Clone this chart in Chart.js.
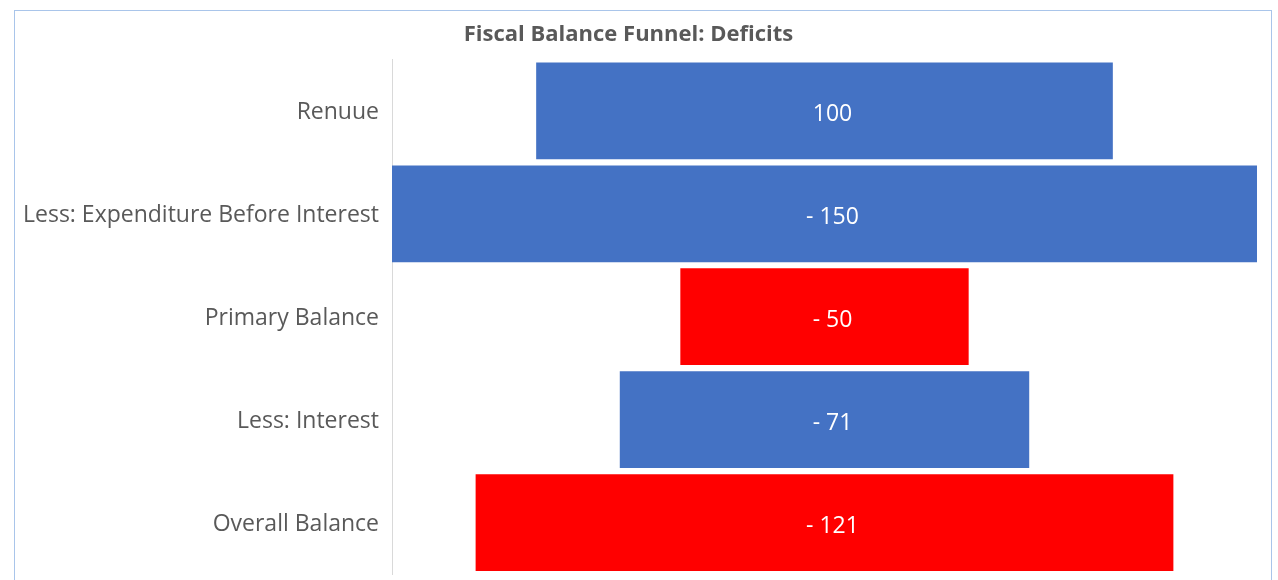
<!DOCTYPE html>
<html>
<head>
<meta charset="utf-8">
<script src="https://cdn.jsdelivr.net/npm/chart.js@4.4.1/dist/chart.umd.min.js"></script>
<style>
  html, body { margin: 0; padding: 0; background: #ffffff; overflow: hidden; }
  #wrap { position: relative; width: 1278px; height: 580px; }
  #frame { position: absolute; left: 14px; top: 10px; width: 1258px; height: 640px;
           border: 1px solid #a9c5ea; box-sizing: border-box; pointer-events: none; }
  canvas { position: absolute; left: 0; top: 0; }
</style>
</head>
<body>
<div id="wrap">
  <canvas id="chart" width="1278" height="580"></canvas>
  <div id="frame"></div>
</div>
<script>
// Funnel stages and their amounts
const categories = ['Renuue', 'Less: Expenditure Before Interest', 'Primary Balance', 'Less: Interest', 'Overall Balance'];
const values = [100, -150, -50, -71, -121];
const xLimit = 75;

// Balance rows are highlighted in red, flows in blue
const barColors = ['#4472C4', '#4472C4', '#FF0000', '#4472C4', '#FF0000'];

const FONT = '"Open Sans", "Noto Sans", sans-serif';
const fmt = v => (v < 0 ? '- ' + Math.abs(v) : String(v));

// Each funnel bar is centred on zero, spanning half its magnitude either side
const spans = values.map(v => [-Math.abs(v) / 2, Math.abs(v) / 2]);

const valueLabels = {
  id: 'valueLabels',
  afterDatasetsDraw(chart) {
    const ctx = chart.ctx;
    const meta = chart.getDatasetMeta(0);
    const x = chart.scales.x.getPixelForValue(0) + 8;
    ctx.save();
    ctx.fillStyle = '#ffffff';
    ctx.font = '23px ' + FONT;
    ctx.textAlign = 'center';
    ctx.textBaseline = 'middle';
    meta.data.forEach((bar, i) => {
      ctx.fillText(fmt(values[i]), x, bar.y + 4);
    });
    ctx.restore();
  }
};

new Chart(document.getElementById('chart'), {
  type: 'bar',
  data: {
    labels: categories,
    datasets: [{
      data: spans,
      backgroundColor: barColors,
      borderWidth: 0,
      barPercentage: 0.94,
      categoryPercentage: 1.0
    }]
  },
  options: {
    indexAxis: 'y',
    responsive: false,
    animation: false,
    layout: { padding: { left: 0, right: 21, top: 0, bottom: 6 } },
    plugins: {
      legend: { display: false },
      tooltip: { enabled: false },
      title: {
        display: true,
        text: 'Fiscal Balance Funnel: Deficits',
        color: '#595959',
        font: { family: FONT, size: 22, weight: 'bold' },
        padding: { top: 22, bottom: 11 }
      }
    },
    scales: {
      x: { display: false, min: -xLimit, max: xLimit },
      y: {
        grid: { display: false, drawTicks: false },
        border: { display: true, color: '#d9d9d9', width: 1 },
        ticks: {
          color: '#595959',
          padding: 13,
          labelOffset: 2,
          font: { family: FONT, size: 23 }
        },
        afterFit(scale) {
          scale.width = 392;
          scale.paddingTop = 0;
          scale.paddingBottom = 0;
        }
      }
    }
  },
  plugins: [valueLabels]
});
</script>
</body>
</html>
